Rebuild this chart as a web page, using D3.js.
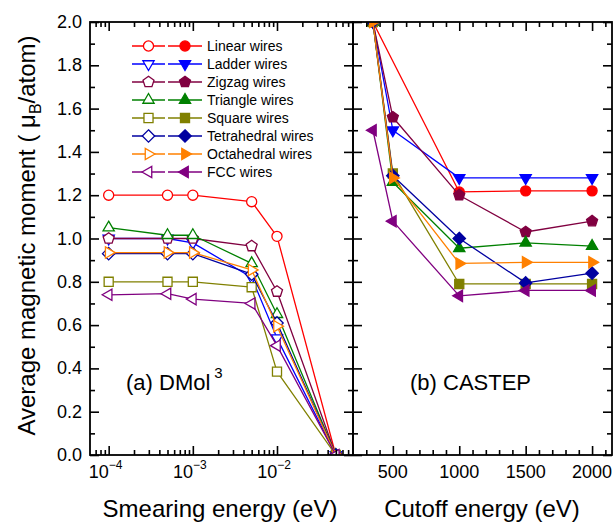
<!DOCTYPE html>
<html>
<head>
<meta charset="utf-8">
<script src="https://cdn.jsdelivr.net/npm/d3@7"></script>
<style>
  body { margin: 0; background: #fff; }
  text { font-family: "Liberation Sans", Arial, sans-serif; fill: #000; }
</style>
</head>
<body>
<div class="chart"></div>
<script>
// ---------------- data ----------------
var seriesNames  = ['Linear wires', 'Ladder wires', 'Zigzag wires', 'Triangle wires',
                    'Square wires', 'Tetrahedral wires', 'Octahedral wires', 'FCC wires'];
var seriesColors = ['#FF0000', '#0000FF', '#800040', '#008000',
                    '#808000', '#0000A0', '#FF8000', '#800080'];
var seriesShapes = ['circle', 'down', 'pentagon', 'up', 'square', 'diamond', 'right', 'left'];

// (a) DMol3 : smearing energy (eV)
var smearing = [1e-4, 5e-4, 1e-3, 5e-3, 1e-2, 5e-2];
var smearLinear      = [1.20, 1.20, 1.20, 1.17, 1.01, 0.0];
var smearLadder      = [1.00, 1.00, 0.98, 0.82, 0.54, 0.0];
var smearZigzag      = [1.00, 1.00, 1.00, 0.965, 0.755, 0.0];
var smearTriangle    = [1.05, 1.015, 1.015, 0.885, 0.65, 0.0];
var smearSquare      = [0.80, 0.80, 0.80, 0.775, 0.385, 0.0];
var smearTetrahedral = [0.93, 0.93, 0.93, 0.835, 0.61, 0.0];
var smearOctahedral  = [0.935, 0.935, 0.935, 0.855, 0.595, 0.0];
var smearFCC         = [0.74, 0.745, 0.72, 0.70, 0.505, 0.0];

// (b) CASTEP : cutoff energy (eV)
var cutoff = [350, 500, 1000, 1500, 2000];
var cutLinear      = [2.0, null, 1.215, 1.22, 1.22];
var cutLadder      = [2.0, 1.50, 1.28, 1.28, 1.28];
var cutZigzag      = [2.0, 1.56, 1.20, 1.03, 1.08];
var cutTriangle    = [2.0, 1.26, 0.955, 0.98, 0.965];
var cutSquare      = [2.0, 1.30, 0.79, 0.79, 0.79];
var cutTetrahedral = [2.0, 1.29, 1.00, 0.795, 0.84];
var cutOctahedral  = [2.0, 1.28, 0.885, 0.89, 0.89];
var cutFCC         = [1.50, 1.08, 0.735, 0.76, 0.76];

var smearSeries = [smearLinear, smearLadder, smearZigzag, smearTriangle,
                   smearSquare, smearTetrahedral, smearOctahedral, smearFCC];
var cutSeries   = [cutLinear, cutLadder, cutZigzag, cutTriangle,
                   cutSquare, cutTetrahedral, cutOctahedral, cutFCC];

var yTicks      = [0, 0.2, 0.4, 0.6, 0.8, 1.0, 1.2, 1.4, 1.6, 1.8, 2.0];
var yMinorTicks = [0.1, 0.3, 0.5, 0.7, 0.9, 1.1, 1.3, 1.5, 1.7, 1.9];
var logTicks    = [1e-4, 1e-3, 1e-2];
var logExps     = ['-4', '-3', '-2'];
var cutTicks    = [500, 1000, 1500, 2000];
var cutMinor    = [300, 400, 600, 700, 800, 900, 1100, 1200, 1300, 1400, 1600, 1700, 1800, 1900, 2100];

// ---------------- layout ----------------
var W = 615, H = 522;
var yTop = 22, yBot = 455;
var xa0 = 90, xa1 = 353, xb1 = 612;

var svg = d3.select('.chart').append('svg')
  .attr('width', W).attr('height', H);

var y  = d3.scaleLinear().domain([0, 2]).range([yBot, yTop]);
var xL = d3.scaleLog().domain([6e-5, 0.08]).range([xa0, xa1]);
var xR = d3.scaleLinear().domain([200, 2150]).range([xa1, xb1]);

var logMinor = xL.ticks().filter(d => logTicks.indexOf(d) < 0 && d > 6e-5 && d < 0.08);

// clip paths
var defs = svg.append('defs');
defs.append('clipPath').attr('id', 'clipA').append('rect')
  .attr('x', xa0).attr('y', yTop).attr('width', xa1 - xa0).attr('height', yBot - yTop);
defs.append('clipPath').attr('id', 'clipB').append('rect')
  .attr('x', xa1).attr('y', yTop).attr('width', xb1 - xa1).attr('height', yBot - yTop);

// ---------------- markers ----------------
function polygon(n, r, start) {
  var pts = [];
  for (var i = 0; i < n; i++) {
    var a = (start + i * 360 / n) * Math.PI / 180;
    pts.push([r * Math.cos(a), r * Math.sin(a)]);
  }
  return 'M' + pts.map(p => p[0].toFixed(2) + ',' + p[1].toFixed(2)).join('L') + 'Z';
}
function shapePath(s) {
  if (s === 'circle')   return d3.symbol(d3.symbolCircle, 80)();
  if (s === 'up')       return polygon(3, 6.5, -90);
  if (s === 'down')     return polygon(3, 6.5, 90);
  if (s === 'right')    return polygon(3, 6.5, 0);
  if (s === 'left')     return polygon(3, 6.5, 180);
  if (s === 'pentagon') return polygon(5, 5.8, -90);
  if (s === 'square')   return polygon(4, 6.4, 45);
  if (s === 'diamond')  return polygon(4, 6.2, -90);
}

// ---------------- data lines ----------------
var gA = svg.append('g').attr('clip-path', 'url(#clipA)');
var gB = svg.append('g').attr('clip-path', 'url(#clipB)');

function drawSeries(g, xs, vals, xScale, i, filled) {
  var pts = xs.map((x, k) => ({ x: x, v: vals[k] })).filter(d => d.v !== null);
  var line = d3.line().x(d => xScale(d.x)).y(d => y(d.v));
  g.append('path')
    .attr('d', line(pts))
    .style('fill', 'none')
    .style('stroke', seriesColors[i])
    .style('stroke-width', 1.3)
    .style('stroke-linejoin', 'round');
  g.selectAll(null)
    .data(pts)
    .enter()
    .append('path')
    .attr('d', shapePath(seriesShapes[i]))
    .attr('transform', d => 'translate(' + xScale(d.x) + ',' + y(d.v) + ')')
    .style('fill', filled ? seriesColors[i] : '#fff')
    .style('stroke', seriesColors[i])
    .style('stroke-width', 1.3);
}

smearSeries.forEach((s, i) => drawSeries(gA, smearing, s, xL, i, false));
cutSeries.forEach((s, i) => drawSeries(gB, cutoff, s, xR, i, true));

// ---------------- axes (inward ticks) ----------------
function ticks(axisFn, scale, values, size, tx, ty) {
  var g = svg.append('g')
    .attr('transform', 'translate(' + tx + ',' + ty + ')')
    .call(axisFn(scale).tickValues(values).tickSize(size).tickSizeOuter(0).tickFormat(''));
  g.select('.domain').remove();
  g.selectAll('line').style('stroke', '#000').style('stroke-width', 1.6);
  return g;
}

// panel (a)
ticks(d3.axisBottom, xL, logTicks, -9, 0, yBot);
ticks(d3.axisBottom, xL, logMinor, -5, 0, yBot);
ticks(d3.axisTop, xL, logTicks, -9, 0, yTop);
ticks(d3.axisTop, xL, logMinor, -5, 0, yTop);
ticks(d3.axisLeft, y, yTicks, -9, xa0, 0);
ticks(d3.axisLeft, y, yMinorTicks, -5, xa0, 0);
ticks(d3.axisRight, y, yTicks, -9, xa1, 0);
ticks(d3.axisRight, y, yMinorTicks, -5, xa1, 0);
// panel (b)
ticks(d3.axisBottom, xR, cutTicks, -9, 0, yBot);
ticks(d3.axisBottom, xR, cutMinor, -5, 0, yBot);
ticks(d3.axisTop, xR, cutTicks, -9, 0, yTop);
ticks(d3.axisTop, xR, cutMinor, -5, 0, yTop);
ticks(d3.axisLeft, y, yTicks, -9, xa1, 0);
ticks(d3.axisLeft, y, yMinorTicks, -5, xa1, 0);
ticks(d3.axisRight, y, yTicks, -9, xb1, 0);
ticks(d3.axisRight, y, yMinorTicks, -5, xb1, 0);

// frames
[[xa0, xa1], [xa1, xb1]].forEach(p => {
  svg.append('rect')
    .attr('x', p[0]).attr('y', yTop)
    .attr('width', p[1] - p[0]).attr('height', yBot - yTop)
    .style('fill', 'none').style('stroke', '#000').style('stroke-width', 1.8);
});

// tick labels
svg.selectAll('.ylab')
  .data(yTicks)
  .enter()
  .append('text')
  .attr('class', 'ylab')
  .attr('x', xa0 - 8)
  .attr('y', d => y(d) + 6)
  .style('text-anchor', 'end')
  .style('font-size', '18px')
  .text(d => d.toFixed(1));

var xlab = svg.selectAll('.xlabL')
  .data(logTicks)
  .enter()
  .append('text')
  .attr('class', 'xlabL')
  .attr('x', d => xL(d) - 3)
  .attr('y', yBot + 23)
  .style('text-anchor', 'middle')
  .style('font-size', '18px');
xlab.append('tspan').text('10');
xlab.append('tspan')
  .attr('dy', -9)
  .style('font-size', '12px')
  .text((d, i) => logExps[i].replace('-', '\u2212'));

svg.selectAll('.xlabR')
  .data(cutTicks)
  .enter()
  .append('text')
  .attr('class', 'xlabR')
  .attr('x', d => xR(d))
  .attr('y', yBot + 23)
  .style('text-anchor', 'middle')
  .style('font-size', '18px')
  .text(d => d);

// axis titles
svg.append('text')
  .attr('x', 220).attr('y', 517)
  .style('text-anchor', 'middle')
  .style('font-size', '24px')
  .text('Smearing energy (eV)');

svg.append('text')
  .attr('x', 482).attr('y', 517)
  .style('text-anchor', 'middle')
  .style('font-size', '24px')
  .text('Cutoff energy (eV)');

var yt = svg.append('text')
  .attr('transform', 'translate(35,' + ((yTop + yBot) / 2 - 3) + ') rotate(-90)')
  .style('text-anchor', 'middle')
  .style('font-size', '24px');
yt.append('tspan').text('Average magnetic moment ( \u03BC');
yt.append('tspan').attr('dy', 6).style('font-size', '16px').text('B');
yt.append('tspan').attr('dy', -6).text('/atom)');

// panel labels
var la = svg.append('text')
  .attr('x', 126).attr('y', 390)
  .style('font-size', '22px');
la.append('tspan').text('(a) DMol');
la.append('tspan').attr('dx', 4).attr('dy', -12).style('font-size', '15px').text('3');

svg.append('text')
  .attr('x', 410).attr('y', 390)
  .style('font-size', '22px')
  .text('(b) CASTEP');

// ---------------- legend ----------------
var legend = svg.append('g').attr('transform', 'translate(0,46)');
seriesNames.forEach((name, i) => {
  var row = legend.append('g').attr('transform', 'translate(0,' + (i * 18) + ')');
  [[132, 165, 148.5, false], [168, 202, 185, true]].forEach(c => {
    row.append('line')
      .attr('x1', c[0]).attr('x2', c[1])
      .style('stroke', seriesColors[i])
      .style('stroke-width', 1.3);
    row.append('path')
      .attr('d', shapePath(seriesShapes[i]))
      .attr('transform', 'translate(' + c[2] + ',0)')
      .style('fill', c[3] ? seriesColors[i] : '#fff')
      .style('stroke', seriesColors[i])
      .style('stroke-width', 1.3);
  });
  row.append('text')
    .attr('x', 207).attr('y', 5)
    .style('font-size', '14px')
    .text(name);
});
</script>
</body>
</html>
